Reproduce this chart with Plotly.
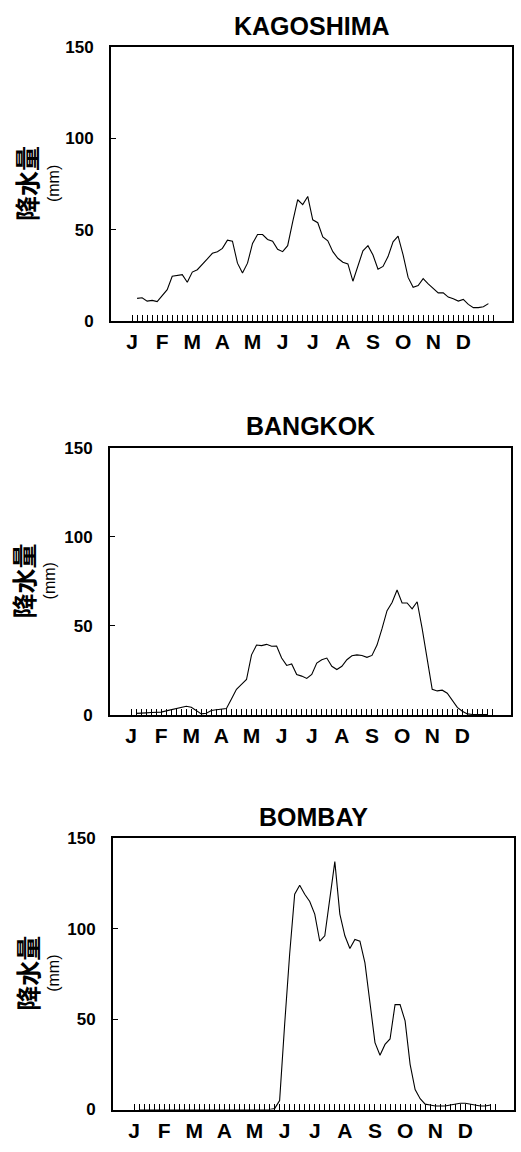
import plotly.graph_objects as go

# Pentad (5-day) rainfall, mm; plotted at pentad positions 1..71
months = ["J", "F", "M", "A", "M", "J", "J", "A", "S", "O", "N", "D"]
stations = ["KAGOSHIMA", "BANGKOK", "BOMBAY"]
pentads = list(range(1, 72))

kagoshima = [
    12.3, 12.6, 10.8, 11.2, 10.5, 13.5, 17.1, 24.4, 24.9, 25.3,
    21.1, 26.7, 28.0, 30.7, 33.9, 37.0, 37.9, 39.7, 44.2, 43.7,
    31.6, 26.2, 31.6, 42.4, 47.3, 47.3, 44.6, 43.7, 39.2, 37.9,
    41.2, 54.2, 66.4, 63.7, 68.2, 55.4, 53.8, 46.0, 43.9, 37.9,
    34.3, 32.1, 31.2, 21.7, 30.7, 38.4, 41.2, 36.1, 28.3, 29.8,
    35.2, 43.3, 46.4, 36.1, 23.8, 18.4, 19.3, 23.1, 20.2, 18.0,
    15.3, 15.3, 13.0, 12.1, 10.8, 11.7, 9.0, 7.2, 7.2, 7.7,
    9.4,
]

bangkok = [
    1.0, 1.0, 1.3, 1.5, 1.7, 1.7, 2.4, 3.0, 3.7, 4.6,
    5.0, 4.4, 2.6, 0.7, 1.1, 2.6, 3.0, 3.3, 3.7, 9.0,
    14.5, 17.3, 20.0, 33.8, 39.3, 39.0, 39.7, 38.6, 38.8, 32.0,
    27.9, 28.7, 22.8, 21.9, 20.6, 22.8, 29.2, 31.1, 32.0, 27.4,
    25.6, 27.4, 31.1, 33.3, 33.8, 33.5, 32.4, 33.5, 39.3, 48.5,
    58.6, 63.2, 70.2, 62.9, 62.9, 59.6, 63.6, 48.5, 32.0, 14.5,
    13.6, 14.0, 12.3, 8.5, 4.4, 2.2, 0.7, 0.4, 0.4, 0.4,
    0.4,
]

bombay = [0.0] * 27 + [
    0.5, 5, 47, 86, 119, 124, 119, 115, 108, 93,
    96, 117, 137, 108, 96, 89, 94, 93, 81, 59,
    37, 30, 36, 39, 58, 58, 49, 25, 11, 6,
    3, 2.5, 2, 2, 2, 2.5, 3, 3.5, 3.5, 3,
    2.5, 2, 2, 2.5,
]

series = [kagoshima, bangkok, bombay]

W, H = 521, 1152
# panel frames in pixels: (left, right, top, bottom)
frames = [(111, 512, 39, 317), (110, 511, 446, 718), (113, 514, 843, 1119)]
title_y = [17, 424, 822]
ylabel_x = [(26, 53), (23, 49), (27, 54)]

FONT = "Liberation Sans, Arial, sans-serif"
CJK = "Noto Sans CJK JP, sans-serif"

# 73 rug marks on pentad boundaries, month letters at the start of each month
rug_vals = list(range(0, 73))
rug_text = [months[i // 6] if (i % 6 == 0 and i // 6 < 12) else "" for i in rug_vals]

fig = go.Figure()
layout = dict(
    width=W, height=H,
    margin=dict(l=0, r=0, t=0, b=0),
    paper_bgcolor="white", plot_bgcolor="white",
    showlegend=False,
)
annotations = []

for k, (name, vals) in enumerate(zip(stations, series)):
    sfx = "" if k == 0 else str(k + 1)
    left, right, top, bottom = frames[k]
    xdom = [left / W, right / W]
    ydom = [1 - bottom / H, 1 - top / H]

    fig.add_trace(go.Scatter(
        x=pentads, y=vals, mode="lines",
        line=dict(color="black", width=1.1),
        xaxis="x" + sfx, yaxis="y" + sfx,
        hoverinfo="skip",
    ))

    layout["xaxis" + sfx] = dict(
        domain=xdom, anchor="y" + sfx, range=[-4.2, 75.7],
        showgrid=False, zeroline=False,
        showline=True, linecolor="black", linewidth=2, mirror=True,
        ticks="inside", ticklen=6, tickwidth=1, tickcolor="black",
        tickmode="array", tickvals=rug_vals, ticktext=rug_text,
        tickangle=0, ticklabelstandoff=1,
        tickfont=dict(family=FONT, size=21, color="black", weight="bold"),
    )
    layout["yaxis" + sfx] = dict(
        domain=ydom, anchor="x" + sfx, range=[0, 150],
        showgrid=False, zeroline=False,
        showline=True, linecolor="black", linewidth=2, mirror=True,
        ticks="inside", ticklen=5, tickwidth=1, tickcolor="black",
        tickmode="array", tickvals=[0, 50, 100, 150],
        ticktext=["0", "50", "100", "150"], ticklabelstandoff=12,
        tickfont=dict(family=FONT, size=17, color="black", weight="bold"),
    )

    ymid = 1 - (top + bottom) / 2 / H
    annotations.append(dict(
        text=name, xref="paper", yref="paper",
        x=(left + right) / 2 / W, y=1 - title_y[k] / H,
        xanchor="center", yanchor="middle", showarrow=False,
        font=dict(family=FONT, size=25, color="black", weight="bold"),
    ))
    annotations.append(dict(
        text="降水量", xref="paper", yref="paper",
        x=ylabel_x[k][0] / W, y=ymid, textangle=-90,
        xanchor="center", yanchor="middle", showarrow=False,
        font=dict(family=CJK, size=25, color="black", weight="bold"),
    ))
    annotations.append(dict(
        text="(mm)", xref="paper", yref="paper",
        x=ylabel_x[k][1] / W, y=ymid, textangle=-90,
        xanchor="center", yanchor="middle", showarrow=False,
        font=dict(family=FONT, size=16, color="black"),
    ))

layout["annotations"] = annotations
fig.update_layout(**layout)
fig.write_html("out.html")
